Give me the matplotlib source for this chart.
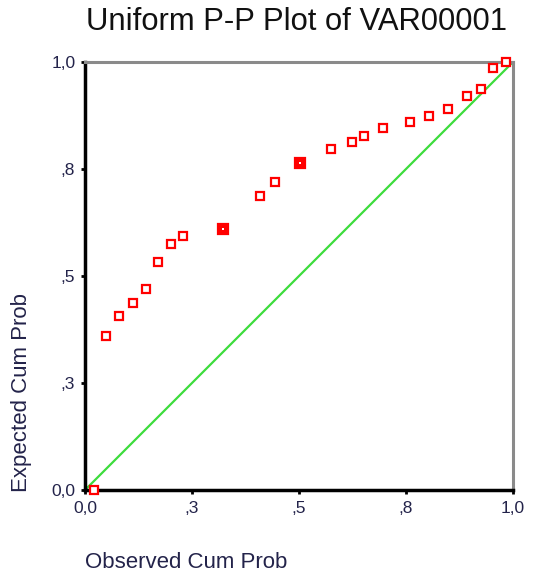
import matplotlib
matplotlib.use("Agg")
import matplotlib.pyplot as plt

plt.rcParams['font.family'] = ['Liberation Sans', 'DejaVu Sans']

# observed vs expected cumulative probabilities
observed = [0.020, 0.049, 0.079, 0.111, 0.142, 0.170, 0.200, 0.230, 0.322,
            0.410, 0.444, 0.502, 0.575, 0.623, 0.653, 0.697, 0.760, 0.804,
            0.848, 0.892, 0.925, 0.954, 0.984]
expected = [0.000, 0.359, 0.406, 0.436, 0.469, 0.532, 0.575, 0.594, 0.609,
            0.687, 0.720, 0.763, 0.797, 0.812, 0.827, 0.845, 0.860, 0.875,
            0.890, 0.921, 0.937, 0.986, 1.000]
# points that sit on top of each other (tied values)
tied = [8, 11]

tick_pos = [0.0, 0.25, 0.5, 0.75, 1.0]
tick_labels = ['0,0', ',3', ',5', ',8', '1,0']

text_col = '#23234a'

fig = plt.figure(figsize=(5.36, 5.79), dpi=100)
ax = fig.add_axes([85 / 536, 89 / 579, 428 / 536, 428 / 579])

ax.plot([0, 1], [0, 1], color='#3ddc3d', lw=1.6, zorder=2)

for i, (x, y) in enumerate(zip(observed, expected)):
    if i in tied:
        # stacked points: solid square with a small white centre
        ax.plot(x, y, marker='s', ms=7, mfc='red', mec='red', mew=1.6,
                ls='none', zorder=3, clip_on=False)
        ax.plot(x, y, marker='s', ms=1.5, mfc='white', mec='white', mew=0,
                ls='none', zorder=4, clip_on=False)
    else:
        ax.plot(x, y, marker='s', ms=6, mfc='white', mec='red', mew=1.6,
                ls='none', zorder=3, clip_on=False)

ax.set_xlim(0, 1)
ax.set_ylim(0, 1)
ax.set_xticks(tick_pos)
ax.set_xticklabels(tick_labels)
ax.set_yticks(tick_pos)
ax.set_yticklabels(tick_labels)
ax.tick_params(direction='out', length=3, width=2, color='black',
               labelsize=12.5, labelcolor=text_col, pad=5)
ax.tick_params(axis='y', pad=4)

for side in ['left', 'bottom']:
    ax.spines[side].set_color('black')
    ax.spines[side].set_linewidth(2.5)
for side in ['top', 'right']:
    ax.spines[side].set_color('#8a8a8a')
    ax.spines[side].set_linewidth(2.2)

fig.text(297 / 536, 1 - 22 / 579, 'Uniform P-P Plot of VAR00001',
         fontsize=22.3, color='#111111', ha='center', va='center')
fig.text(22 / 536, 87 / 579, 'Expected Cum Prob', fontsize=16, rotation=90,
         color=text_col, ha='center', va='bottom')
fig.text(85 / 536, 1 - 563 / 579, 'Observed Cum Prob', fontsize=16,
         color=text_col, ha='left', va='center')

fig.savefig('out.png', dpi=100)
